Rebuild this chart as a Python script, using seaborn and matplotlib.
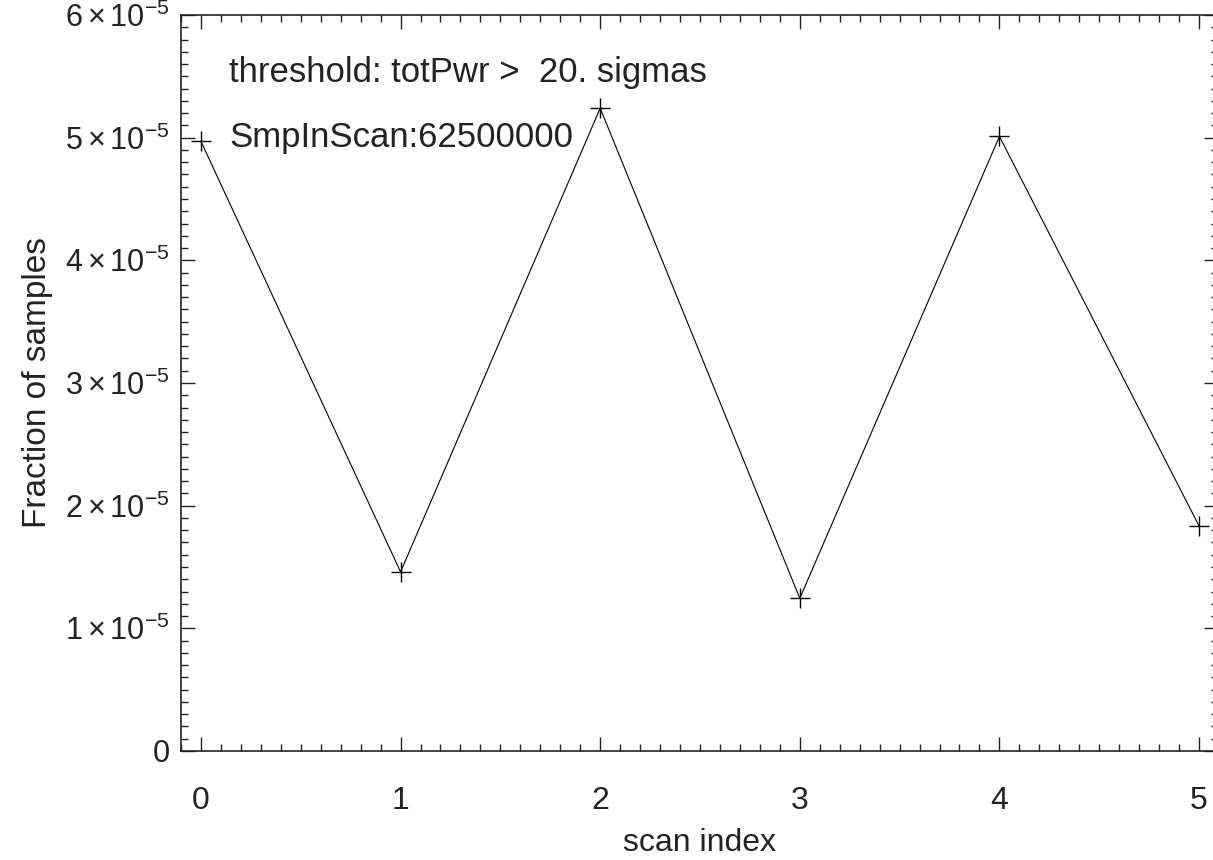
import matplotlib
matplotlib.use("Agg")
import matplotlib.pyplot as plt
import matplotlib.ticker as ticker
import seaborn as sns

scan_index = [0, 1, 2, 3, 4, 5]
fraction = [4.97e-5, 1.46e-5, 5.24e-5, 1.245e-5, 5.01e-5, 1.835e-5]

y_ticks = [0, 1e-5, 2e-5, 3e-5, 4e-5, 5e-5, 6e-5]
y_tick_labels = ["0"] + [r"$\mathregular{%d\times10^{-5}}$" % k for k in range(1, 7)]
x_ticks = [0, 1, 2, 3, 4, 5]

notes = ["threshold: totPwr >  20. sigmas", "SmpInScan:62500000"]

sns.set_theme(style="ticks")
plt.rcParams["font.family"] = ["Liberation Sans", "DejaVu Sans"]
plt.rcParams["mathtext.fontset"] = "custom"
plt.rcParams["mathtext.rm"] = "Liberation Sans"
plt.rcParams["mathtext.it"] = "Liberation Sans:italic"
plt.rcParams["mathtext.bf"] = "Liberation Sans:bold"

fig = plt.figure(figsize=(12.13, 8.6), dpi=100)
ax = fig.add_axes([181 / 1213, 109 / 860, (1218 - 181) / 1213, (751 - 15) / 860])

sns.lineplot(x=scan_index, y=fraction, ax=ax, color="black", linewidth=0.8,
             marker="+", markersize=14, markeredgewidth=1.0, markeredgecolor="black")

ax.set_xlim(-0.1, 5.095)
ax.set_ylim(0, 6e-5)
ax.set_xticks(x_ticks)
ax.set_xticklabels([str(t) for t in x_ticks])
ax.set_yticks(y_ticks)
ax.set_yticklabels(y_tick_labels)
ax.xaxis.set_minor_locator(ticker.AutoMinorLocator(10))
ax.yaxis.set_minor_locator(ticker.AutoMinorLocator(10))

ax.tick_params(which="both", direction="in", top=True, right=True, colors="#222222",
               labelsize=23, width=1.0)
ax.tick_params(which="major", length=10)
ax.tick_params(which="minor", length=5)
ax.tick_params(axis="x", which="major", pad=25)
ax.tick_params(axis="y", which="major", pad=8, labelsize=22)
for spine in ax.spines.values():
    spine.set_visible(True)
    spine.set_linewidth(1.2)
    spine.set_color("#222222")

ax.set_xlabel("scan index", fontsize=23, color="#222222", labelpad=9)
ax.set_ylabel("Fraction of samples", fontsize=24, color="#222222", labelpad=9)

ax.text(0.14, 5.53e-5, notes[0], fontsize=25, color="#222222", va="center", ha="left")
ax.text(0.14, 5.0e-5, notes[1], fontsize=25, color="#222222", va="center", ha="left")

fig.savefig("out.png", dpi=100)
